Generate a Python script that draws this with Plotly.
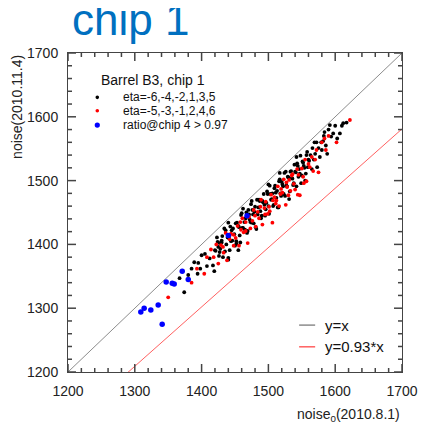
import plotly.graph_objects as go

# ---- data ----
black_x = [1374,1367,1385,1394,1408,1419,1417,1389,1395,1400,1405,1420,1425,1427,1440,1442,1430,1452,1455,1380,1412,1398,
           1421,1423,1426,1427,1431,1432,1434,1437,1439,1440,1443,1446,1447,1449,1452,1453,1455,1458,1459,1461,1464,1465,
           1467,1468,1471,1473,1474,1477,1478,1480,1482,1485,1486,1488,1489,1491,1493,1496,1497,1499,1501,1502,1505,1506,
           1508,1510,1512,1513,1515,1517,1519,1520,1522,1525,1526,1528,1530,1531,1533,1536,1537,1539,1541,1542,1544,1547,
           1548,1550,1552,1553,1555,1557,1559,1560,
           1424,1428,1430,1435,1436,1441,1444,1445,1450,1451,1456,1457,1460,1462,1466,1469,1470,1472,1475,1476,1479,1481,
           1483,1484,1487,1490,1492,1494,1495,1498,1500,1503,1504,1507,1509,1511,1514,1516,1518,1521,1523,1524,1527,1529,
           1532,1534,1535,1538,1540,1543,1545,1546,1549,1551,1554,1556,1558,1561,
           1563,1565,1566,1568,1570,1572,1573,1575,1577,1579,1580,1582,1584,1586,1588,1590,1592,1594,1597,1600,1603,1607,
           1610,1612,1617,1583,1569,
           1440,1475,1517,1542,1500,1462]
black_y = [1325,1347,1362,1354,1366,1358,1367,1372,1371,1383,1385,1391,1396,1388,1376,1391,1406,1401,1391,1352,1378,1362,
           1390,1411,1382,1402,1413,1380,1425,1400,1411,1379,1428,1406,1425,1416,1405,1434,1429,1403,1446,1426,1435,1423,
           1450,1418,1447,1435,1463,1447,1433,1459,1424,1458,1470,1452,1441,1468,1479,1455,1465,1479,1448,1492,1471,1480,
           1462,1492,1473,1484,1458,1502,1476,1498,1491,1476,1514,1491,1505,1471,1514,1503,1493,1525,1513,1491,1523,1511,
           1539,1508,1528,1523,1500,1540,1521,1533,
           1404,1393,1403,1389,1422,1410,1405,1422,1398,1433,1427,1414,1449,1426,1441,1421,1454,1439,1434,1454,1451,1427,
           1470,1447,1468,1445,1466,1462,1445,1483,1460,1479,1470,1460,1488,1481,1458,1499,1480,1494,1479,1512,1492,1506,
           1483,1515,1504,1496,1514,1527,1506,1518,1496,1530,1520,1511,1545,1531,
           1540,1518,1551,1533,1542,1560,1521,1551,1537,1560,1548,1562,1576,1555,1542,1580,1587,1569,1574,1586,1566,1574,
           1586,1590,1591,1570,1560,
           1434,1468,1512,1537,1494,1456]

red_x = [1418,1422,1425,1429,1433,1436,1438,1442,1444,1448,1451,1454,1456,1459,1461,1463,1466,1469,1471,1473,
         1476,1478,1481,1484,1486,1489,1491,1494,1496,1499,1501,1504,1506,1509,1511,1514,1516,1519,1521,1523,
         1526,1528,1531,1533,1535,1538,1540,1543,1545,1547,1550,1552,1555,1557,1560,1562,1565,1567,1570,1572,
         1575,1448,1466,1488,1502,1518,1536,1553,1480,1512,1527,1544,1458,1495,1507,1530,
         1580,1586,1590,1602,1622,1584,
         1350,1385,1404,1408,1432,1442,1393,1414]
red_y = [1380,1400,1370,1399,1387,1418,1375,1408,1417,1398,1410,1429,1398,1423,1441,1419,1435,1402,1443,1425,
         1437,1454,1428,1451,1441,1470,1431,1457,1467,1448,1459,1478,1434,1474,1464,1491,1460,1487,1481,1502,
         1462,1490,1501,1484,1508,1495,1486,1518,1509,1477,1519,1506,1533,1499,1526,1521,1537,1515,1533,1548,
         1513,1415,1421,1459,1452,1479,1510,1496,1445,1469,1497,1478,1435,1447,1469,1477,
         1560,1548,1570,1560,1595,1566,
         1317,1340,1354,1380,1396,1414,1362,1392]

blue_x = [1309,1314,1324,1335,1341,1347,1356,1359,1371,1380,1440,1468]
blue_y = [1294,1300,1297,1305,1275,1341,1339,1338,1358,1345,1414,1445]

line_x = [1200, 1700]
slope_ref = 0.93

x_ticks = [1200, 1300, 1400, 1500, 1600, 1700]
y_ticks = [1200, 1300, 1400, 1500, 1600, 1700]
minor_step = 20

FONT = "Liberation Sans, Arial, sans-serif"
TICK_COL = "#444444"
RANGE = [x_ticks[0], x_ticks[-1]]

# page body has an 8px margin: the figure is sized/placed so the plot frame lands at
# x 68..402, y 53..372 in the 427x437 window
FIG_W, FIG_H = 411, 421
PLOT_W, PLOT_H = 334, 319
ML, MT = 60, 45

# data units per pixel (for tick-mark lengths)
ux = (RANGE[1] - RANGE[0]) / PLOT_W
uy = (RANGE[1] - RANGE[0]) / PLOT_H

fig = go.Figure()
fig.add_trace(go.Scatter(x=line_x, y=[v for v in line_x], mode="lines",
                         line=dict(color="#8c8c8c", width=1), showlegend=False))
fig.add_trace(go.Scatter(x=line_x, y=[slope_ref * v for v in line_x], mode="lines",
                         line=dict(color="#ff6060", width=1), showlegend=False))
fig.add_trace(go.Scatter(x=black_x, y=black_y, mode="markers",
                         marker=dict(color="black", size=3.8), showlegend=False))
fig.add_trace(go.Scatter(x=red_x, y=red_y, mode="markers",
                         marker=dict(color="#ff0000", size=3.8), showlegend=False))
fig.add_trace(go.Scatter(x=blue_x, y=blue_y, mode="markers",
                         marker=dict(color="#0000ff", size=5.5), showlegend=False))

# inside tick marks on all four sides (ROOT style), built from the tick arrays
major_set = set(x_ticks)
tx, ty = [], []
for v in range(RANGE[0], RANGE[1] + 1, minor_step):
    npx = 8 if v in major_set else 4
    tx += [v, v, None, v, v, None]
    ty += [RANGE[0], RANGE[0] + npx * uy, None, RANGE[1], RANGE[1] - npx * uy, None]
    tx += [RANGE[0], RANGE[0] + npx * ux, None, RANGE[1], RANGE[1] - npx * ux, None]
    ty += [v, v, None, v, v, None]
fig.add_trace(go.Scatter(x=tx, y=ty, mode="lines", line=dict(color=TICK_COL, width=1.5),
                         showlegend=False, hoverinfo="skip", cliponaxis=False))

axis_common = dict(tickmode="array", showgrid=False, zeroline=False, range=RANGE,
                   showline=True, linecolor=TICK_COL, linewidth=1, mirror=True, ticks="",
                   tickfont=dict(family=FONT, size=14, color="#222222"))
fig.update_xaxes(tickvals=x_ticks, ticklabelstandoff=6, **axis_common)
fig.update_yaxes(tickvals=y_ticks, ticklabelstandoff=6, **axis_common)

shapes = []
ann = []
ann.append(dict(text="chip 1", x=0.006, y=1.105, xref="paper", yref="paper", xanchor="left", yanchor="middle",
                showarrow=False, font=dict(family=FONT, size=44, color="#0070c0")))
ann.append(dict(text="noise<sub>0</sub>(2010.8.1)", x=1.0, y=-0.135, xref="paper", yref="paper",
                xanchor="right", yanchor="middle", showarrow=False, font=dict(family=FONT, size=14, color="#222222")))
ann.append(dict(text="noise(2010.11.4)", x=-0.153, y=1.0, xref="paper", yref="paper", textangle=-90,
                xanchor="center", yanchor="top", showarrow=False, font=dict(family=FONT, size=14, color="#222222")))
ann.append(dict(text="Barrel B3, chip 1", x=0.092, y=0.915, xref="paper", yref="paper", xanchor="left",
                yanchor="middle", showarrow=False, font=dict(family=FONT, size=14, color="#111111")))
entries = ["eta=-6,-4,-2,1,3,5", "eta=-5,-3,-1,2,4,6", "ratio@chip 4 &gt; 0.97"]
ent_y = [0.861, 0.819, 0.774]
ent_col = ["black", "#ff0000", "#0000ff"]
ent_size = [1.8, 1.8, 2.6]
for t, yy, c, s in zip(entries, ent_y, ent_col, ent_size):
    ann.append(dict(text=t, x=0.158, y=yy, xref="paper", yref="paper", xanchor="left", yanchor="middle",
                    showarrow=False, font=dict(family=FONT, size=12, color="#111111")))
    cx = 0.0877
    dx = s / PLOT_W
    dy = s / PLOT_H
    shapes.append(dict(type="circle", xref="paper", yref="paper", x0=cx - dx, x1=cx + dx, y0=yy - dy, y1=yy + dy,
                       fillcolor=c, line=dict(width=0)))
for t, yy, c in zip(["y=x", "y=0.93*x"], [0.147, 0.079], ["#8c8c8c", "#ff6060"]):
    shapes.append(dict(type="line", xref="paper", yref="paper", x0=0.692, x1=0.740, y0=yy, y1=yy,
                       line=dict(color=c, width=1.5)))
    ann.append(dict(text=t, x=0.763, y=yy, xref="paper", yref="paper", xanchor="left", yanchor="middle",
                    showarrow=False, font=dict(family=FONT, size=15, color="#111111")))

fig.update_layout(width=FIG_W, height=FIG_H,
                  margin=dict(l=ML, r=FIG_W - ML - PLOT_W, t=MT, b=FIG_H - MT - PLOT_H, autoexpand=False),
                  paper_bgcolor="white", plot_bgcolor="white", annotations=ann, shapes=shapes,
                  showlegend=False)

fig.write_html("out.html")
